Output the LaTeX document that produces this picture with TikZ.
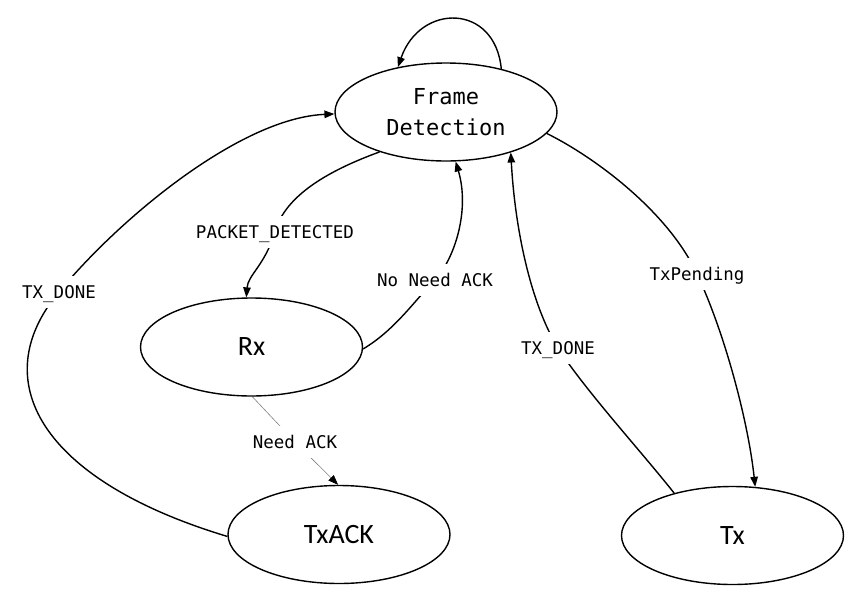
\documentclass[tikz,border=0pt]{standalone}
\usepackage{fontspec}
\setmainfont{Carlito}
\newfontfamily\lblmono{DejaVu Sans Mono}
\usetikzlibrary{shapes.geometric,arrows.meta}
\pgfdeclarelayer{bg}
\pgfsetlayers{bg,main}
\begin{document}
\begin{tikzpicture}[x=1pt,y=-1pt,
  state/.style={draw, ellipse, line width=1.4pt, minimum width=222pt, minimum height=98pt, inner sep=0pt},
  bigsans/.style={font=\fontsize{28}{32}\selectfont},
  lbl/.style={fill=white, font=\lblmono\fontsize{17.5}{20}\selectfont, inner xsep=2pt, inner ysep=7pt, text height=15pt, text depth=3pt},
  conn/.style={line width=1.4pt, -{Triangle[length=10pt,width=7.5pt]}},
  thinconn/.style={gray, line width=0.6pt, -{Triangle[length=10pt,width=7.5pt,color=black,fill=black]}}
]
\useasboundingbox (0,0) rectangle (868,592);
% states
\node[state, font=\lblmono\fontsize{22}{31}\selectfont, align=center] (fd) at (446,112) {Frame\\Detection};
\node[state, bigsans] (rx) at (251.5,347) {Rx};
\node[state, bigsans] (txack) at (339,534.5) {TxACK};
\node[state, bigsans] (tx) at (732.5,535.5) {Tx};
% labels
\node[lbl] (l1) at (59,292) {TX\_DONE};
\node[lbl] (l2) at (275,232) {PACKET\_DETECTED};
\node[lbl] (l3) at (435,280) {No Need ACK};
\node[lbl] (l4) at (295,442) {Need ACK};
\node[lbl] (l5) at (558,348) {TX\_DONE};
\node[lbl] (l6) at (697,274) {TxPending};
% connectors
\begin{pgfonlayer}{bg}
\draw[conn] (fd.38) .. controls (495,3) and (420,3) .. (fd.137);
\draw[conn] (txack.181) .. controls (40,480) and (-15,380) .. (l1.center) .. controls (119,219) and (240,118) .. (fd.181);
\draw[conn] (fd.211) .. controls (330,170) and (285,195) .. (l2.center) .. controls (265,265) and (248,275) .. (rx.96);
\draw[conn] (rx.-1) .. controls (395,330) and (415,300) .. (l3.center) .. controls (455,258) and (470,210) .. (fd.-79);
\draw[thinconn] (rx.-89) -- (l4.center) -- (txack.91);
\draw[conn] (tx.144) .. controls (640,450) and (585,390) .. (l5.center) .. controls (531,304) and (515,230) .. (fd.-32);
\draw[conn] (fd.-12) .. controls (600,160) and (670,215) .. (l6.center) .. controls (724,331) and (748,420) .. (tx.65);
\end{pgfonlayer}
\end{tikzpicture}
\end{document}
